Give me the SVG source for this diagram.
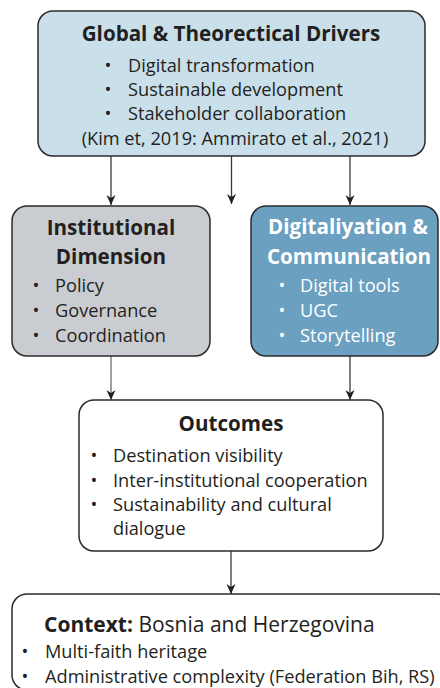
<svg xmlns="http://www.w3.org/2000/svg" width="440" height="688" viewBox="0 0 440 688">
<defs>
<style>
.box{stroke:#2b2b2b;stroke-width:1.5}
.t{font-family:"Open Sans","Noto Sans",sans-serif;font-size:18.2px;fill:#231f20}
.h{font-family:"Open Sans","Noto Sans",sans-serif;font-size:20.6px;font-weight:bold;fill:#231f20}
.w{fill:#ffffff}
.c{text-anchor:middle}
.conn{stroke:#3a3a3a;stroke-width:1.3;fill:none}
</style>
<marker id="arr" viewBox="0 0 10 10" refX="10" refY="5" markerWidth="10" markerHeight="10" markerUnits="userSpaceOnUse" orient="auto">
<path d="M0,0.5 L10,5 L0,9.5 L3,5 Z" fill="#231f20"/>
</marker>
</defs>
<rect width="440" height="688" fill="#ffffff"/>
<g id="connectors">
<line class="conn" x1="111" y1="156" x2="111" y2="205" marker-end="url(#arr)"/>
<line class="conn" x1="231.5" y1="156" x2="231.5" y2="204" marker-end="url(#arr)"/>
<line class="conn" x1="350" y1="156" x2="350" y2="205" marker-end="url(#arr)"/>
<line class="conn" x1="111" y1="356" x2="111" y2="400" marker-end="url(#arr)" style="stroke:#6d6d6d"/>
<line class="conn" x1="350" y1="356" x2="350" y2="400" marker-end="url(#arr)"/>
<line class="conn" x1="231" y1="551" x2="231" y2="594" marker-end="url(#arr)"/>
</g>
<g id="drivers">
<rect class="box" x="38" y="11" width="387" height="145" rx="15" fill="#c9dfea"/>
<text class="h c" x="231" y="41">Global &amp; Theorectical Drivers</text>
<text class="t c" x="108" y="72">•</text><text class="t" x="128" y="72">Digital transformation</text>
<text class="t c" x="108" y="96">•</text><text class="t" x="128" y="96">Sustainable development</text>
<text class="t c" x="108" y="120">•</text><text class="t" x="128" y="120">Stakeholder collaboration</text>
<text class="t c" x="235" y="145">(Kim et, 2019: Ammirato et al., 2021)</text>
</g>
<g id="institutional">
<rect class="box" x="12" y="206" width="198" height="150" rx="15" fill="#c9cdd1"/>
<text class="h c" x="111" y="235">Institutional</text>
<text class="h c" x="111" y="264">Dimension</text>
<text class="t c" x="36" y="292">•</text><text class="t" x="55" y="292">Policy</text>
<text class="t c" x="36" y="317">•</text><text class="t" x="55" y="317">Governance</text>
<text class="t c" x="36" y="342">•</text><text class="t" x="55" y="342">Coordination</text>
</g>
<g id="digitalization">
<rect class="box" x="251" y="206" width="187" height="150" rx="15" fill="#6ba0c1"/>
<text class="h c w" x="348" y="234">Digitaliyation &amp;</text>
<text class="h c w" x="349" y="264">Communication</text>
<text class="t c w" x="282" y="292">•</text><text class="t w" x="300" y="292">Digital tools</text>
<text class="t c w" x="282" y="317">•</text><text class="t w" x="300" y="317">UGC</text>
<text class="t c w" x="282" y="342">•</text><text class="t w" x="300" y="342">Storytelling</text>
</g>
<g id="outcomes">
<rect class="box" x="79" y="400" width="304" height="151" rx="15" fill="#ffffff"/>
<text class="h c" x="231" y="431">Outcomes</text>
<text class="t c" x="94" y="462">•</text><text class="t" x="113" y="462">Destination visibility</text>
<text class="t c" x="94" y="487">•</text><text class="t" x="113" y="487">Inter-institutional cooperation</text>
<text class="t c" x="94" y="511">•</text><text class="t" x="113" y="511">Sustainability and cultural</text>
<text class="t" x="113" y="535">dialogue</text>
</g>
<g id="context">
<rect class="box" x="12" y="594" width="440" height="96" rx="15" fill="#ffffff"/>
<text class="t" x="44" y="632" style="font-size:21px"><tspan font-weight="bold">Context:</tspan> Bosnia and Herzegovina</text>
<text class="t c" x="25" y="658">•</text><text class="t" x="45" y="658">Multi-faith heritage</text>
<text class="t c" x="25" y="683">•</text><text class="t" x="45" y="683">Administrative complexity (Federation Bih, RS)</text>
</g>
</svg>
